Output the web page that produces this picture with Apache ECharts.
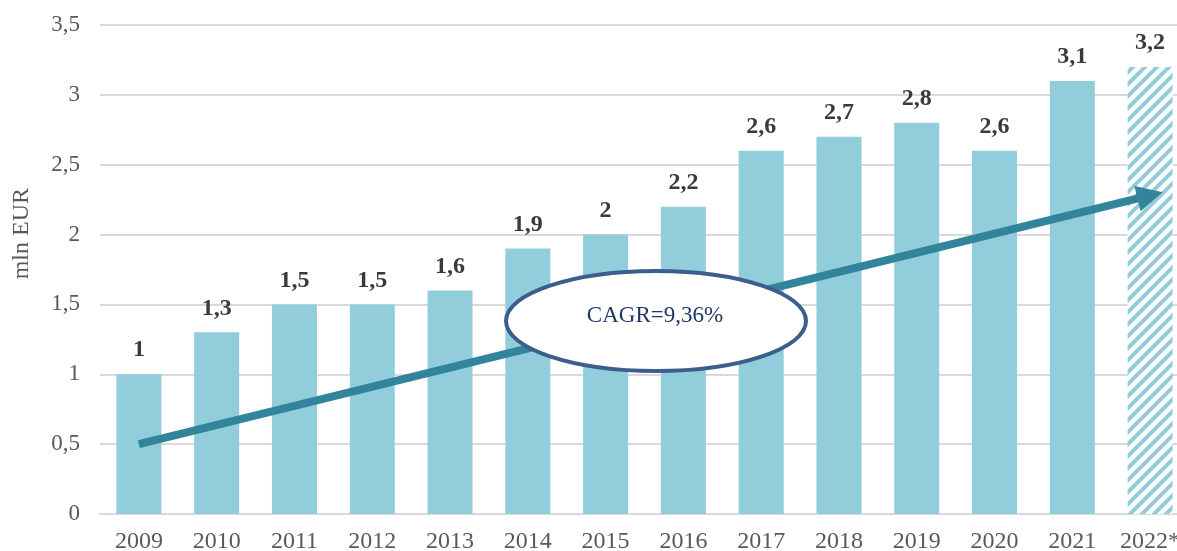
<!DOCTYPE html>
<html>
<head>
<meta charset="utf-8">
<style>
  html, body { margin: 0; padding: 0; background: #ffffff; }
  #chart { width: 1177px; height: 551px; }
</style>
<script src="https://cdn.jsdelivr.net/npm/echarts@6/dist/echarts.min.js"></script>
</head>
<body>
<div id="chart"></div>
<script>
// Annual values, mln EUR (2022 is an estimate, drawn hatched)
const years = ['2009', '2010', '2011', '2012', '2013', '2014', '2015', '2016', '2017', '2018', '2019', '2020', '2021', '2022*'];
const values = [1, 1.3, 1.5, 1.5, 1.6, 1.9, 2, 2.2, 2.6, 2.7, 2.8, 2.6, 3.1, 3.2];
const estimatedYears = ['2022*'];

// Trend arrow endpoints [category, value] and its caption
const trendStart = ['2009', 0.5];
const trendEnd = ['2022*', 2.28];
const trendCaption = 'CAGR=9,36%';

const BAR = '#92CDDC';
const TREND = '#31849B';
const SERIF = '"Liberation Serif", "Times New Roman", serif';

const fmt = v => String(v).replace('.', ',');

// Diagonal hatch tile for estimated bars
function hatchPattern() {
  const s = 12;
  const c = document.createElement('canvas');
  c.width = s; c.height = s;
  const ctx = c.getContext('2d');
  ctx.fillStyle = '#ffffff';
  ctx.fillRect(0, 0, s, s);
  ctx.strokeStyle = BAR;
  ctx.lineWidth = 4;
  ctx.beginPath();
  ctx.moveTo(-2, s + 2); ctx.lineTo(s + 2, -2);
  ctx.moveTo(-2, 2); ctx.lineTo(2, -2);
  ctx.moveTo(s - 2, s + 2); ctx.lineTo(s + 2, s - 2);
  ctx.stroke();
  return { image: c, repeat: 'repeat' };
}

const hatch = hatchPattern();
const barData = values.map((v, i) => {
  const item = { value: v };
  if (estimatedYears.includes(years[i])) item.itemStyle = { color: hatch };
  return item;
});

const chart = echarts.init(document.getElementById('chart'), null, { renderer: 'canvas' });
chart.setOption({
  animation: false,
  backgroundColor: '#ffffff',
  // the last category band runs past the right edge of the canvas
  grid: { left: 100, top: 25, bottom: 37, width: 1089, containLabel: false, outerBoundsMode: 'none' },
  xAxis: {
    type: 'category',
    data: years,
    axisTick: { show: false },
    axisLine: { lineStyle: { color: '#d9d9d9', width: 2 } },
    axisLabel: { color: '#595959', fontFamily: SERIF, fontSize: 24, margin: 16, interval: 0, hideOverlap: false }
  },
  yAxis: {
    type: 'value',
    min: 0, max: 3.5, interval: 0.5,
    axisLine: { show: false },
    axisTick: { show: false },
    splitLine: { lineStyle: { color: '#d9d9d9', width: 2 } },
    axisLabel: { color: '#595959', fontFamily: SERIF, fontSize: 23, margin: 20, formatter: v => fmt(v) }
  },
  graphic: [
    {
      type: 'text', left: 10, top: 188, rotation: Math.PI / 2,
      style: { text: 'mln EUR', fill: '#595959', font: '24px ' + SERIF }
    },
    {
      type: 'ellipse', z: 100,
      shape: { cx: 656, cy: 321, rx: 150, ry: 50 },
      style: { fill: '#ffffff', stroke: '#3B5E8C', lineWidth: 4 }
    },
    {
      type: 'text', z: 101, x: 655, y: 316,
      style: { text: trendCaption, fill: '#1F3864', font: '23px ' + SERIF, align: 'center', verticalAlign: 'middle' }
    }
  ],
  series: [{
    type: 'bar',
    data: barData,
    barWidth: 45,
    itemStyle: { color: BAR },
    label: {
      show: true, position: 'top', distance: 12,
      color: '#3a3a3a', fontFamily: SERIF, fontSize: 24, fontWeight: 'bold',
      formatter: p => fmt(p.value)
    },
    markLine: {
      silent: true,
      symbol: ['none', 'triangle'],
      symbolSize: [26, 26],
      lineStyle: { color: TREND, width: 8, type: 'solid', cap: 'butt' },
      label: { show: false },
      data: [[{ coord: trendStart }, { coord: trendEnd }]]
    }
  }]
});
</script>
</body>
</html>
